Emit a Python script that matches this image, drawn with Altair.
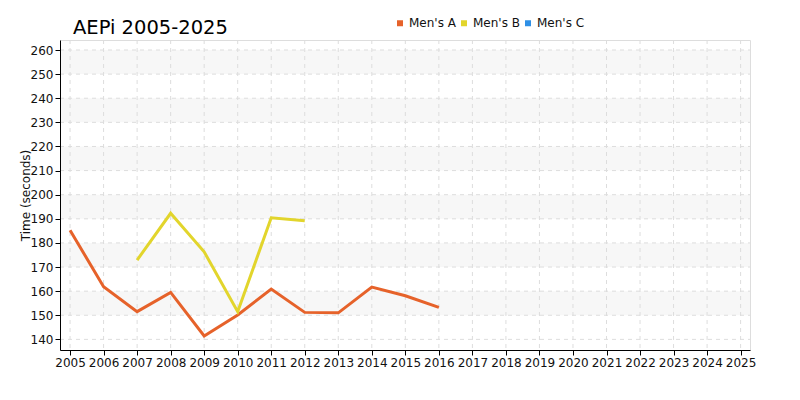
import altair as alt
import pandas as pd

years_a = [2005, 2006, 2007, 2008, 2009, 2010, 2011, 2012, 2013, 2014, 2015, 2016]
times_a = [185.3, 161.8, 151.5, 159.5, 141.4, 150.1, 160.9, 151.2, 151.0, 161.7, 158.1, 153.3]
years_b = [2007, 2008, 2009, 2010, 2011, 2012]
times_b = [172.9, 192.3, 176.3, 151.5, 190.4, 189.2]
series = ["Men's A", "Men's B", "Men's C"]
colors = ["#e6622a", "#e2d52c", "#2f90e6"]
year_ticks = list(range(2005, 2026))
y_ticks = list(range(140, 261, 10))
band_lo = [150, 170, 190, 210, 230, 250]
band_hi = [160, 180, 200, 220, 240, 260]

df = pd.DataFrame(
    {"year": years_a + years_b,
     "time": times_a + times_b,
     "team": ["Men's A"] * len(years_a) + ["Men's B"] * len(years_b)}
)
bands = pd.DataFrame({"time": band_lo, "hi": band_hi})
xgrid = pd.DataFrame({"year": year_ticks})
ygrid = pd.DataFrame({"time": y_ticks})

W, H = 690, 310
xscale = alt.Scale(domain=[2004.7, 2025.28], nice=False, zero=False)
yscale = alt.Scale(domain=[135.6, 264.15], nice=False, zero=False)

xaxis = alt.Axis(values=year_ticks, format="d", title=None,
                 grid=False, zindex=1,
                 domainColor="#000000", tickColor="#000000",
                 tickSize=5, labelFontSize=12, labelColor="#111111",
                 labelFont="DejaVu Sans", labelPadding=2,
                 labelOverlap=False, labelFlush=False)
yaxis = alt.Axis(values=y_ticks, title="Time (seconds)",
                 grid=False, zindex=1, labelOverlap=False,
                 domainColor="#000000", tickColor="#000000",
                 tickSize=5, labelFontSize=12, labelColor="#111111",
                 labelFont="DejaVu Sans", labelPadding=2,
                 titleFont="DejaVu Sans", titleFontSize=12,
                 titleFontWeight="normal", titleColor="#111111",
                 titlePadding=-2)

band_layer = alt.Chart(bands).mark_rect(color="#f7f7f7").encode(
    x=alt.value(0), x2=alt.value(W),
    y=alt.Y("time:Q", scale=yscale, axis=yaxis), y2="hi:Q",
)

vgrid = alt.Chart(xgrid).mark_rule(color="#dddddd", strokeDash=[4, 4], strokeWidth=1).encode(
    x=alt.X("year:Q", scale=xscale, axis=xaxis), y=alt.value(0), y2=alt.value(H),
)
hgrid = alt.Chart(ygrid).mark_rule(color="#dddddd", strokeDash=[4, 4], strokeWidth=1).encode(
    y=alt.Y("time:Q", scale=yscale, axis=yaxis), x=alt.value(0), x2=alt.value(W),
)

lines = alt.Chart(df).mark_line(strokeWidth=3).encode(
    x=alt.X("year:Q", scale=xscale, axis=xaxis),
    y=alt.Y("time:Q", scale=yscale, axis=yaxis),
    color=alt.Color("team:N",
                    scale=alt.Scale(domain=series, range=colors),
                    legend=alt.Legend(orient="none", legendX=334, legendY=-23,
                                      direction="horizontal", title=None,
                                      symbolType="square", symbolSize=9,
                                      symbolStrokeWidth=3,
                                      labelFont="DejaVu Sans", labelFontSize=12,
                                      labelColor="#111111", labelOffset=3,
                                      columnPadding=0)),
    detail="team:N",
)

chart = alt.layer(band_layer, vgrid, hgrid, lines).properties(
    width=W, height=H,
    title=alt.TitleParams("AEPi 2005-2025", anchor="start", frame="group", dx=13,
                          dy=22, font="DejaVu Sans", fontSize=19.5, fontWeight="normal",
                          color="#000000", offset=1),
    autosize=alt.AutoSizeParams(type="none"),
    padding={"left": 52, "top": 32, "right": 30, "bottom": 30},
).configure_view(stroke=None).configure(background="#ffffff")

chart.save("out.html", embed_options={"renderer": "svg", "actions": False})
